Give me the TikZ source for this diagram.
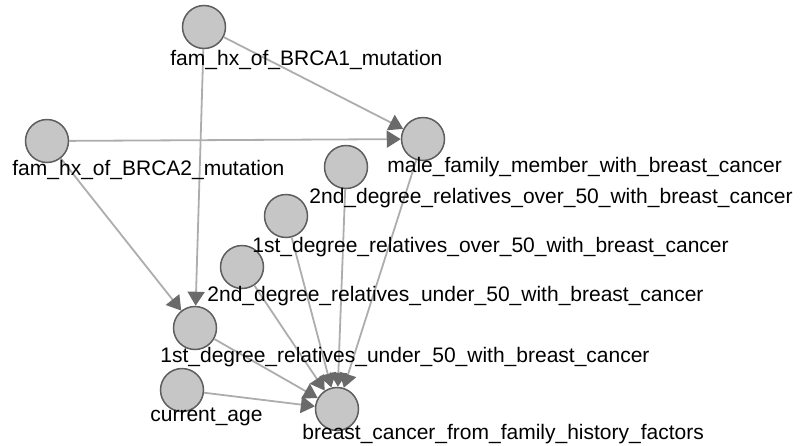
\documentclass[tikz,border=0pt]{standalone}
\usepackage{fontspec}
\setmainfont{Liberation Sans}
\usetikzlibrary{arrows.meta}
\definecolor{nodefill}{HTML}{C6C6C6}
\definecolor{nodeedge}{HTML}{5E5E5E}
\definecolor{linkcol}{HTML}{ADADAD}
\definecolor{tipcol}{HTML}{6A6A6A}
\begin{document}
\begin{tikzpicture}[x=0.5pt,y=-0.5pt,
  var/.style={circle,fill=nodefill,draw=nodeedge,line width=0.75pt,minimum size=21.5pt,inner sep=0pt},
  lbl/.style={anchor=base west,inner sep=0pt,font=\fontsize{10.5}{12}\selectfont},
  link/.style={draw=linkcol,line width=0.9pt,-{Triangle[length=7pt,width=8.5pt,color=tipcol]}}]
\useasboundingbox (0,0) rectangle (802,445);
% variables
\node[var] (brca1) at (204,27) {};
\node[var] (brca2) at (47,141) {};
\node[var] (male) at (423,139) {};
\node[var] (sec50o) at (346,167) {};
\node[var] (fst50o) at (286,216) {};
\node[var] (sec50u) at (242,267) {};
\node[var] (fst50u) at (195,328) {};
\node[var] (age) at (182,390) {};
\node[var] (bc) at (337,409) {};
% dependencies
\draw[link] (brca1) -- (male);
\draw[link] (brca1) -- (fst50u);
\draw[link] (brca2) -- (male);
\draw[link] (brca2) -- (fst50u);
\draw[link] (male) -- (bc);
\draw[link] (sec50o) -- (bc);
\draw[link] (fst50o) -- (bc);
\draw[link] (sec50u) -- (bc);
\draw[link] (fst50u) -- (bc);
\draw[link] (age) -- (bc);
% labels
\node[lbl] (l-brca1) at (170,65) {fam\_hx\_of\_BRCA1\_mutation};
\node[lbl] (l-brca2) at (12,175) {fam\_hx\_of\_BRCA2\_mutation};
\node[lbl] (l-male) at (387,172) {male\_family\_member\_with\_breast\_cancer};
\node[lbl] (l-sec50o) at (309,203) {2nd\_degree\_relatives\_over\_50\_with\_breast\_cancer};
\node[lbl] (l-fst50o) at (252,252) {1st\_degree\_relatives\_over\_50\_with\_breast\_cancer};
\node[lbl] (l-sec50u) at (207,301) {2nd\_degree\_relatives\_under\_50\_with\_breast\_cancer};
\node[lbl] (l-fst50u) at (160,362) {1st\_degree\_relatives\_under\_50\_with\_breast\_cancer};
\node[lbl] (l-age) at (150,421) {current\_age};
\node[lbl] (l-bc) at (302,439) {breast\_cancer\_from\_family\_history\_factors};
\end{tikzpicture}
\end{document}
